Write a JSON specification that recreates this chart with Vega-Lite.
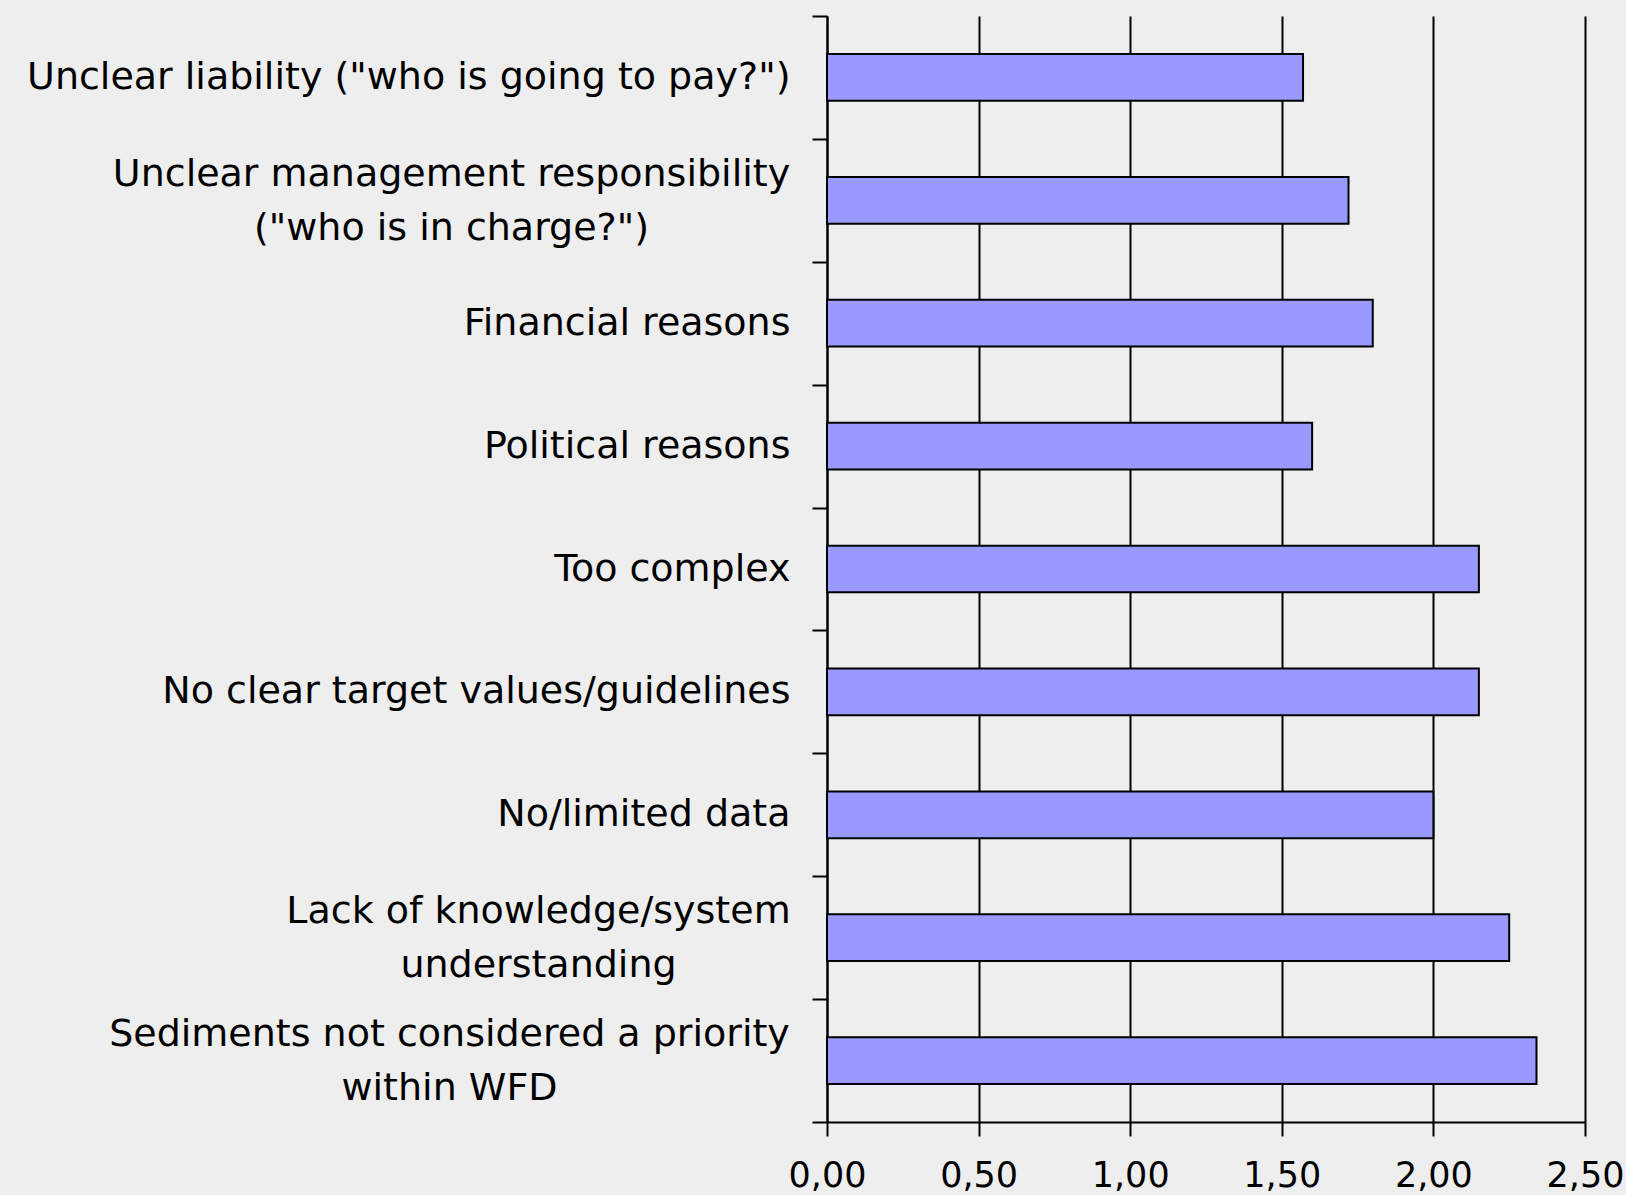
{
  "$schema": "https://vega.github.io/schema/vega-lite/v6.json",
  "width": 758,
  "height": 1106,
  "autosize": {"type": "none"},
  "padding": {"left": 827, "top": 16, "right": 41, "bottom": 73},
  "background": "#eeeeee",
  "config": {"view": {"stroke": null}, "font": "DejaVu Sans"},
  "data": {
    "values": [
      {"reason": "Unclear liability (\"who is going to pay?\")", "score": 1.57},
      {"reason": "Unclear management responsibility|(\"who is in charge?\")", "score": 1.72},
      {"reason": "Financial reasons", "score": 1.80},
      {"reason": "Political reasons", "score": 1.60},
      {"reason": "Too complex", "score": 2.15},
      {"reason": "No clear target values/guidelines", "score": 2.15},
      {"reason": "No/limited data", "score": 2.00},
      {"reason": "Lack of knowledge/system|understanding", "score": 2.25},
      {"reason": "Sediments not considered a priority|within WFD", "score": 2.34}
    ]
  },
  "mark": {"type": "bar", "color": "#9999ff", "stroke": "#000000", "strokeWidth": 2, "height": {"band": 0.38}},
  "encoding": {
    "y": {
      "field": "reason",
      "type": "nominal",
      "sort": null,
      "title": null,
      "scale": {"paddingInner": 0, "paddingOuter": 0},
      "axis": {
        "tickBand": "extent",
        "grid": false,
        "domainColor": "#000000",
        "domainWidth": 2,
        "tickColor": "#000000",
        "tickWidth": 2,
        "tickSize": 15,
        "labelFont": "DejaVu Sans",
        "labelFontSize": 38,
        "labelColor": "#000000",
        "labelLimit": 2000,
        "labelLineHeight": 54,
        "labelExpr": "isString(datum.label) ? split(datum.label, '|') : ''",
        "labelAlign": {"condition": {"test": "isString(datum.value) && indexof(datum.value, '|') >= 0", "value": "center"}, "value": "right"},
        "labelOffset": {"condition": {"test": "isString(datum.value) && indexof(datum.value, '|') >= 0", "value": -26}, "value": 0},
        "labelPadding": {
          "condition": [
            {"test": "isString(datum.value) && indexof(datum.value, 'management') >= 0", "value": 361},
            {"test": "isString(datum.value) && indexof(datum.value, 'knowledge') >= 0", "value": 274},
            {"test": "isString(datum.value) && indexof(datum.value, 'Sediments') >= 0", "value": 363}
          ],
          "value": 22
        }
      }
    },
    "x": {
      "field": "score",
      "type": "quantitative",
      "title": null,
      "scale": {"domain": [0, 2.5], "nice": false},
      "axis": {
        "values": [0, 0.5, 1, 1.5, 2, 2.5],
        "labelExpr": "replace(format(datum.value, '.2f'), '.', ',')",
        "labelFlush": false,
        "grid": true,
        "gridColor": "#000000",
        "gridWidth": 2,
        "domainColor": "#000000",
        "domainWidth": 2,
        "tickColor": "#000000",
        "tickWidth": 2,
        "tickSize": 14,
        "labelFont": "DejaVu Sans",
        "labelFontSize": 35,
        "labelColor": "#000000",
        "labelPadding": 22
      }
    }
  }
}
